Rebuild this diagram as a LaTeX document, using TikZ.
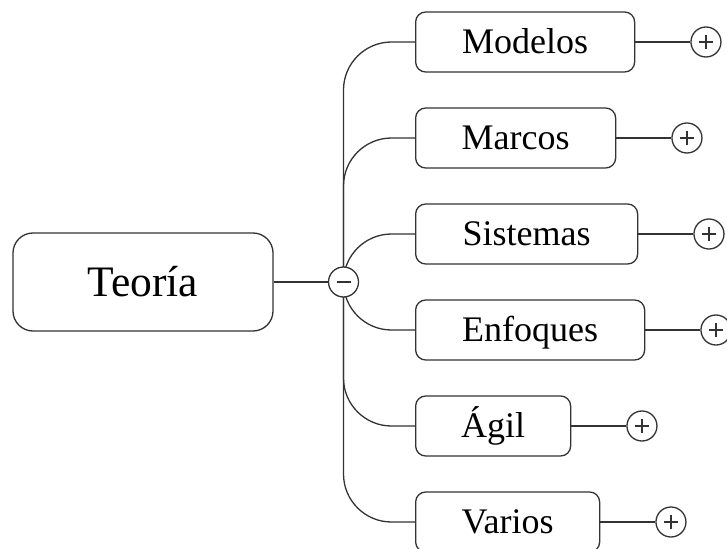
\documentclass[tikz,border=0pt]{standalone}
\usepackage{fontspec}
\setmainfont{Liberation Serif}
\usetikzlibrary{backgrounds,positioning}
\definecolor{linegray}{HTML}{333333}
\definecolor{boxgray}{HTML}{333333}
\begin{document}
\begin{tikzpicture}[x=1pt,y=-1pt,
  line width=1.3pt,
  rootbox/.style={draw=boxgray, rounded corners=20, minimum width=260, minimum height=98,
    inner sep=0, text height=28.5pt, text depth=0pt, font=\fontsize{43.5}{50}\selectfont},
  topic/.style={draw=boxgray, rounded corners=10, minimum height=60, anchor=west,
    inner sep=0, text height=23.5pt, text depth=0pt, font=\fontsize{36}{42}\selectfont},
  toggle/.style={circle, draw=linegray, fill=white, minimum size=30, inner sep=0},
  collapse/.style={toggle, path picture={
    \draw[linegray] ([xshift=-7pt]path picture bounding box.center) -- ([xshift=7pt]path picture bounding box.center);}},
  expand/.style={toggle, right=55pt of #1, path picture={
    \draw[linegray] ([xshift=-7pt]path picture bounding box.center) -- ([xshift=7pt]path picture bounding box.center);
    \draw[linegray] ([yshift=-7pt]path picture bounding box.center) -- ([yshift=7pt]path picture bounding box.center);}},
  link/.style={draw=linegray, line width=1.3pt},
  branch/.style={draw=linegray, line width=1.3pt, rounded corners=48}]

\clip (0,0) rectangle (727,548);

% central topic and its toggle
\node[rootbox] (root) at (143,282) {Teoría};
\node[collapse] (hub) at (343.5,282) {};

% subtopics
\node[topic, minimum width=219] (mod) at (415,42)  {Modelos};
\node[topic, minimum width=200] (mar) at (415,138) {Marcos};
\node[topic, minimum width=222] (sis) at (415,234) {Sistemas};
\node[topic, minimum width=229] (enf) at (415,330) {Enfoques};
\node[topic, minimum width=155] (agi) at (415,426) {Ágil};
\node[topic, minimum width=184] (var) at (415,522) {Varios};

% expand buttons
\node[expand=mod] (modp) {};
\node[expand=mar] (marp) {};
\node[expand=sis] (sisp) {};
\node[expand=enf] (enfp) {};
\node[expand=agi] (agip) {};
\node[expand=var] (varp) {};

\begin{pgfonlayer}{background}
  \draw[link] (root.east) -- (hub.west);
  \foreach \t in {mod,mar,sis,enf,agi,var}{
    \draw[branch] (hub.center) |- (\t.west);
    \draw[link] (\t.east) -- (\t p.west);
  }
\end{pgfonlayer}

\end{tikzpicture}
\end{document}
